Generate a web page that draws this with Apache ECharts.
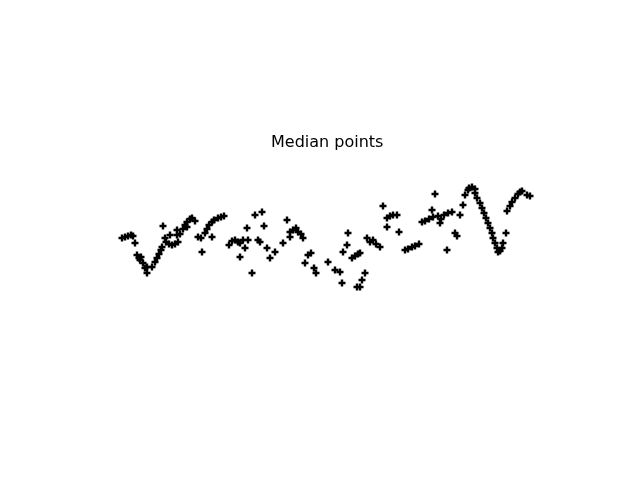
<!DOCTYPE html>
<html>
<head>
<meta charset="utf-8">
<script src="https://cdn.jsdelivr.net/npm/echarts@6/dist/echarts.min.js"></script>
<style>
  html, body { margin: 0; padding: 0; background: #fff; }
  #main { width: 640px; height: 480px; }
</style>
</head>
<body>
<div id="main"></div>
<script>
// median points
const xs = [42, 45, 48, 51, 53, 55, 57, 59, 61, 60, 63, 65, 67, 72, 67, 75, 77, 79, 81, 82,
  83, 85, 86, 89, 92, 95, 98, 90, 97, 100, 103, 105, 107, 110, 112, 97, 115, 107, 122, 118,
  121, 125, 127, 129, 132, 134, 138, 141, 144, 132, 149, 152, 155, 158, 160, 163, 168, 165, 160, 167,
  175, 172, 182, 184, 178, 180, 187, 190, 195, 203, 207, 210, 213, 216, 218, 221, 223, 210, 228, 231,
  225, 234, 236, 248, 255, 260, 262, 268, 267, 263, 272, 275, 278, 280, 287, 290, 293, 296, 300, 277,
  280, 282, 285, 303, 307, 310, 313, 317, 307, 319, 355, 325, 328, 332, 335, 339, 342, 345, 349, 353,
  358, 361, 364, 368, 372, 352, 360, 367, 375, 377, 380, 383, 385, 388, 389, 392, 395, 395, 397, 400,
  402, 404, 406, 408, 410, 412, 413, 415, 417, 418, 420, 422, 423, 426, 427, 430, 432, 435, 438, 440,
  442, 447, 450];
const ys = [62, 63, 64, 65, 64, 57, 45, 42, 43, 40, 37, 32, 33, 33, 27, 38, 42, 46, 50, 53,
  74, 62, 58, 56, 55, 56, 58, 65, 65, 66, 71, 75, 78, 81, 82, 70, 79, 73, 48, 63,
  62, 67, 71, 75, 78, 80, 82, 83, 84, 63, 55, 59, 60, 58, 57, 60, 60, 52, 43, 72,
  85, 27, 88, 74, 60, 58, 52, 42, 48, 57, 80, 68, 70, 72, 68, 66, 62, 63, 45, 47,
  37, 32, 27, 38, 30, 28, 17, 67, 55, 48, 42, 44, 46, 47, 62, 58, 60, 56, 53, 13,
  13, 20, 27, 94, 82, 84, 85, 85, 73, 68, 106, 50, 51, 53, 54, 56, 78, 79, 81, 83,
  84, 81, 85, 87, 88, 90, 77, 50, 67, 64, 85, 95, 105, 110, 112, 113, 111, 107, 102, 97,
  92, 87, 82, 77, 72, 67, 62, 57, 52, 48, 49, 52, 57, 67, 89, 94, 98, 102, 106, 108,
  109, 105, 104];

const points = xs.map((x, i) => [x, ys[i]]);

const plus = 'path://M2.3,0H4.7V2.3H7V4.7H4.7V7H2.3V4.7H0V2.3H2.3Z';

const chart = echarts.init(document.getElementById('main'));
chart.setOption({
  animation: false,
  backgroundColor: '#ffffff',
  title: {
    text: 'Median points',
    left: 271,
    top: 135,
    padding: 0,
    textStyle: {
      fontFamily: 'DejaVu Sans',
      fontSize: 16,
      fontWeight: 'normal',
      color: '#000'
    }
  },
  grid: { left: 80, top: 175, width: 496, height: 125 },
  xAxis: {
    type: 'value',
    min: 0,
    max: 496,
    show: false
  },
  yAxis: {
    type: 'value',
    min: 0,
    max: 125,
    show: false
  },
  series: [{
    type: 'scatter',
    data: points,
    symbol: plus,
    symbolSize: 7,
    itemStyle: { color: '#000', opacity: 1 }
  }]
});
</script>
</body>
</html>
